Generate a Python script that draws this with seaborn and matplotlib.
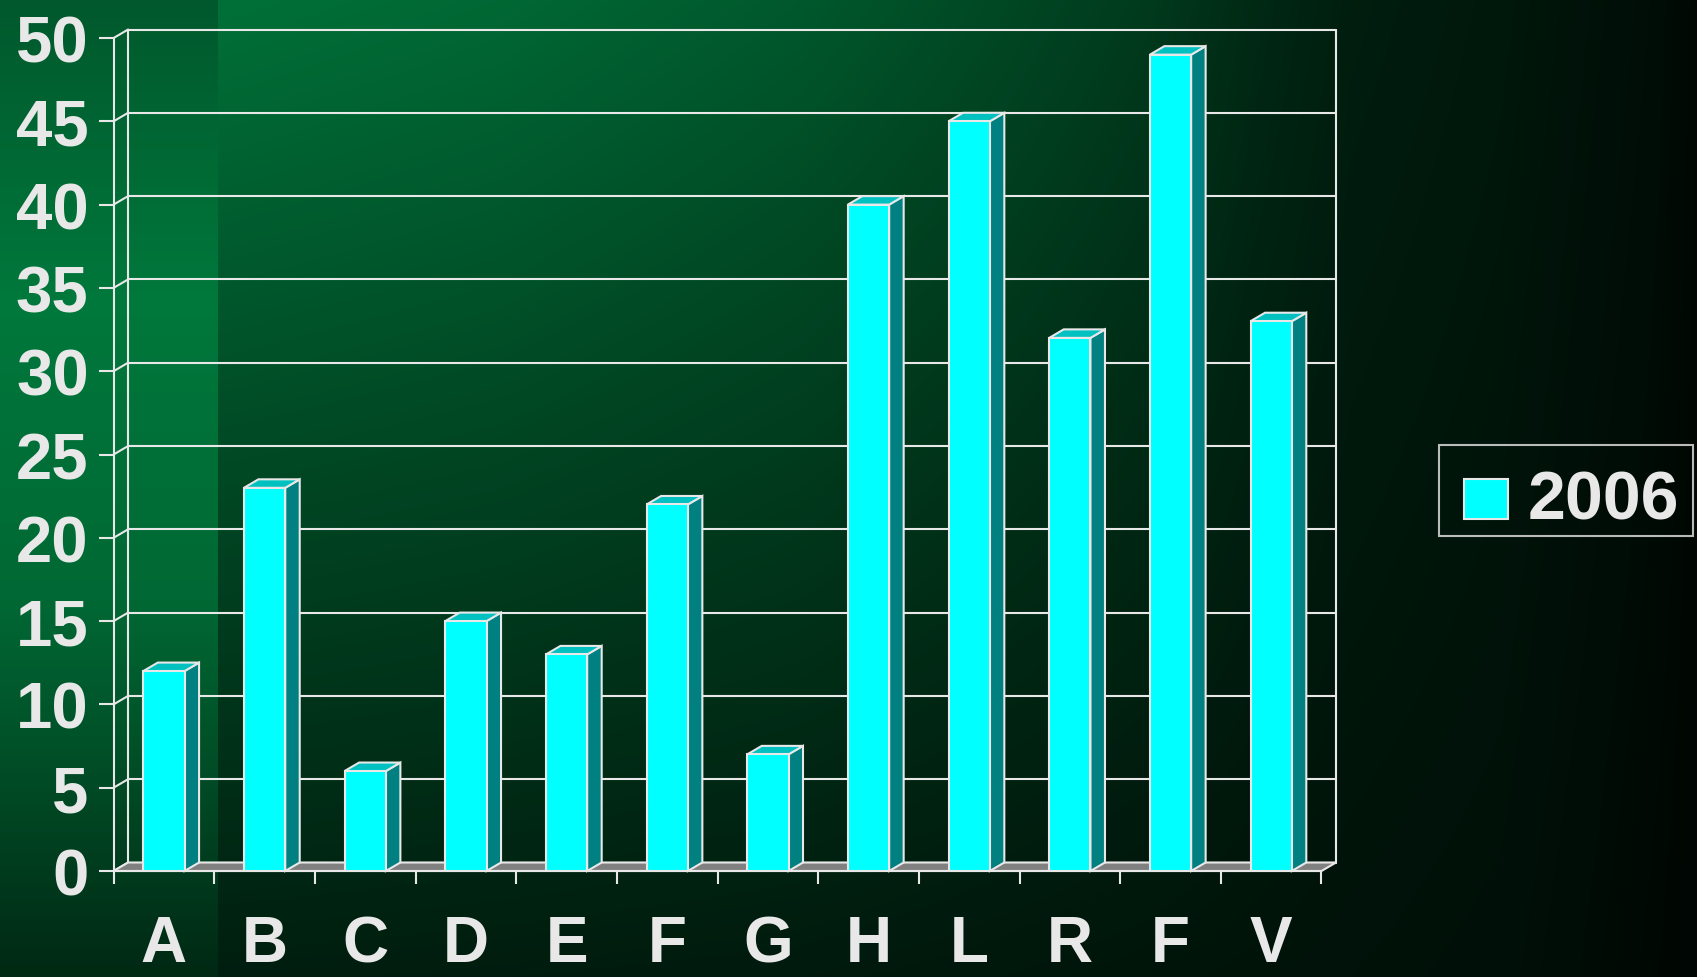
import numpy as np
import pandas as pd
import matplotlib
matplotlib.use("Agg")
import matplotlib.pyplot as plt
from matplotlib.patches import Polygon, Rectangle
from matplotlib.container import BarContainer
from matplotlib.transforms import ScaledTranslation
from matplotlib import legend_handler
import seaborn as sns

# data
labels = ["A", "B", "C", "D", "E", "F", "G", "H", "L", "R", "F", "V"]
values = [12, 23, 6, 15, 13, 22, 7, 40, 45, 32, 49, 33]
series_name = "2006"
y_ticks = [0, 5, 10, 15, 20, 25, 30, 35, 40, 45, 50]

W, H = 1697, 978
FG = "#e8e8e8"
FRONT = "#00ffff"
SIDE = "#008080"
TOP = "#00c0c0"
FLOOR = "#808080"

sns.set_theme(style="white")
plt.rcParams["font.family"] = ["Liberation Sans", "DejaVu Sans"]
plt.rcParams["font.weight"] = "bold"

fig = plt.figure(figsize=(W / 100, H / 100), dpi=100)

# background: green gradient with a lighter strip on the left
xs = np.arange(W)
ys = np.arange(H)
top_g = np.interp(xs, [218, 500, 800, 1000, 1150, 1250, 1350, 1500, 1650, 1697],
                  [0x70, 0x68, 0x58, 0x48, 0x3a, 0x2a, 0x1e, 0x18, 0x0e, 0x08])
bot_g = np.interp(xs, [218, 800, 1200, 1500, 1697], [0x1e, 0x1a, 0x14, 0x10, 0x06])
t = (ys / (H - 1))[:, None]
g = top_g[None, :] * (1 - t) + bot_g[None, :] * t
strip = np.interp(ys, [0, 300, 600, 800, 977], [0x58, 0x78, 0x68, 0x48, 0x28])
g[:, :218] = strip[:, None]
img = np.zeros((H, W, 3))
img[..., 1] = g / 255
img[..., 2] = g * 0.5 / 255

bg = fig.add_axes([0, 0, 1, 1])
bg.imshow(img, aspect="auto", interpolation="bilinear")
bg.axis("off")
bg.set_zorder(0)

ax_rect = [0.06694, 0.10838, 0.71178, 0.85174]
ax = fig.add_axes(ax_rect)
ax.set_zorder(1)
ax.patch.set_alpha(0)

n = len(labels)
# depth of the fake 3d in data units (about 14.5 x 8.5 px)
ddx = 14.5 / (ax_rect[2] * W / n)
ddy = 8.5 / (ax_rect[3] * H / 50)

df = pd.DataFrame({"pos": range(n), "value": values})
sns.barplot(data=df, x="pos", y="value", color=FRONT, saturation=1, width=0.41,
            edgecolor=FG, linewidth=1.5, errorbar=None, label=series_name,
            ax=ax, zorder=5)

# side and top faces of every bar
for bar in ax.containers[0]:
    x0, w, h = bar.get_x(), bar.get_width(), bar.get_height()
    ax.add_patch(Polygon([(x0 + w, 0), (x0 + w + ddx, ddy), (x0 + w + ddx, h + ddy), (x0 + w, h)],
                         closed=True, fc=SIDE, ec=FG, lw=1.5, zorder=4, clip_on=False))
    ax.add_patch(Polygon([(x0, h), (x0 + ddx, h + ddy), (x0 + w + ddx, h + ddy), (x0 + w, h)],
                         closed=True, fc=TOP, ec=FG, lw=1.5, zorder=4, clip_on=False))

# back wall, left wall links and floor
x_lo, x_hi = -0.5, n - 0.5
for v in y_ticks:
    ax.plot([x_lo + ddx, x_hi + ddx], [v + ddy, v + ddy], color=FG, lw=1.5, zorder=1, clip_on=False)
    ax.plot([x_lo, x_lo + ddx], [v, v + ddy], color=FG, lw=1.5, zorder=1, clip_on=False)
for xv in (x_lo + ddx, x_hi + ddx):
    ax.plot([xv, xv], [ddy, 50 + ddy], color=FG, lw=1.5, zorder=1, clip_on=False)
ax.add_patch(Polygon([(x_lo, 0), (x_hi, 0), (x_hi + ddx, ddy), (x_lo + ddx, ddy)],
                     closed=True, fc=FLOOR, ec=FG, lw=1.5, zorder=2, clip_on=False))

ax.set_xlim(x_lo, x_hi)
ax.set_ylim(0, 50)
ax.set_xlabel("")
ax.set_ylabel("")

for side in ("top", "right"):
    ax.spines[side].set_visible(False)
for side in ("left", "bottom"):
    ax.spines[side].set_color(FG)
    ax.spines[side].set_linewidth(1.5)

ax.set_yticks(y_ticks)
ax.tick_params(axis="y", left=True, length=11, width=1.5, color=FG, direction="out",
               labelcolor=FG, labelsize=47, pad=7)
ax.set_xticks(np.arange(x_lo, n, 1), [""] * (n + 1))
ax.set_xticks(range(n), labels, minor=True)
ax.tick_params(axis="x", which="major", bottom=True, length=9.5, width=1.5, color=FG, direction="out")
ax.tick_params(axis="x", which="minor", bottom=True, length=0, labelcolor=FG, labelsize=46, pad=31)
for lbl in ax.get_xticklabels(minor=True) + ax.get_yticklabels():
    lbl.set_fontweight("bold")


# legend swatch: smaller square sitting at the right end of the handle box
def swatch(legend, orig_handle, xdescent, ydescent, width, height, fontsize):
    sw, sh = fontsize * 0.66, fontsize * 0.59
    return Rectangle((-xdescent + width - sw, -ydescent + (height - sh) / 2 - fontsize * 0.21), sw, sh)


handles, lbls = ax.get_legend_handles_labels()
leg = ax.legend(handles, lbls, loc="center left", bbox_to_anchor=(1439 / W, 1 - 491.5 / H),
                bbox_transform=fig.transFigure, frameon=True, fancybox=False, edgecolor=FG,
                facecolor="none", prop={"size": 49, "weight": "bold"}, labelcolor=FG,
                handlelength=0.82, handleheight=0.62, handletextpad=0.28, borderpad=0.2,
                borderaxespad=0,
                handler_map={BarContainer: legend_handler.HandlerPatch(
                    patch_func=swatch, update_func=legend_handler.update_from_first_child)})
leg.get_frame().set_linewidth(1.5)
# the label sits a little lower in its box in the reference
for txt in leg.get_texts():
    txt.set_transform(txt.get_transform() + ScaledTranslation(0, -0.095, fig.dpi_scale_trans))

fig.savefig("out.png", dpi=100)
